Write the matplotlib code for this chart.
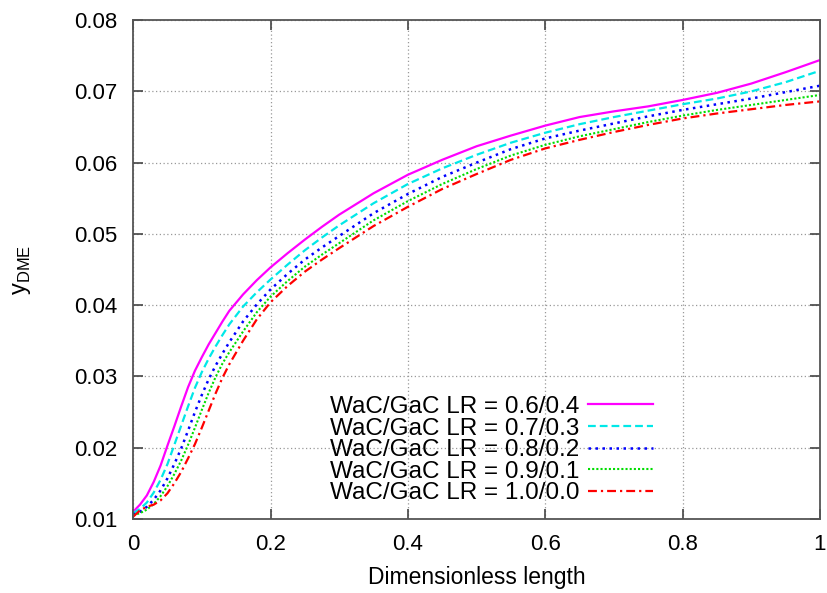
import matplotlib

matplotlib.use("Agg")
import matplotlib.pyplot as plt

plt.rcParams["font.family"] = ["Liberation Sans", "DejaVu Sans"]
plt.rcParams["mathtext.fontset"] = "custom"
plt.rcParams["mathtext.rm"] = "Liberation Sans"

# dimensionless length positions and y_DME values
x = [0.0, 0.01, 0.02, 0.03, 0.04, 0.05, 0.06, 0.07, 0.08, 0.09,
     0.10, 0.11, 0.12, 0.13, 0.14, 0.16, 0.18, 0.20, 0.225, 0.25,
     0.275, 0.30, 0.35, 0.40, 0.45, 0.50, 0.55, 0.60, 0.65, 0.70,
     0.75, 0.80, 0.85, 0.90, 0.95, 1.00]

y_06 = [0.0110, 0.0120, 0.0133, 0.0152, 0.0175, 0.0203, 0.0230, 0.0258, 0.0285, 0.0308,
        0.0327, 0.0345, 0.0361, 0.0377, 0.0392, 0.0415, 0.0435, 0.0453, 0.0473, 0.0492,
        0.0510, 0.0527, 0.0557, 0.0583, 0.0604, 0.0623, 0.0638, 0.0652, 0.0664, 0.0672,
        0.0679, 0.0688, 0.0698, 0.0711, 0.0727, 0.0744]
y_07 = [0.0108, 0.0114, 0.0123, 0.0137, 0.0155, 0.0177, 0.0204, 0.0231, 0.0258, 0.0284,
        0.0306, 0.0325, 0.0342, 0.0358, 0.0373, 0.0398, 0.0418, 0.0436, 0.0457, 0.0477,
        0.0495, 0.0512, 0.0543, 0.0570, 0.0592, 0.0611, 0.0628, 0.0642, 0.0654, 0.0664,
        0.0673, 0.0682, 0.0690, 0.0700, 0.0713, 0.0729]
y_08 = [0.0106, 0.0110, 0.0117, 0.0127, 0.0140, 0.0157, 0.0177, 0.0199, 0.0224, 0.0250,
        0.0274, 0.0296, 0.0315, 0.0332, 0.0348, 0.0377, 0.0401, 0.0422, 0.0444, 0.0464,
        0.0481, 0.0497, 0.0529, 0.0556, 0.0580, 0.0600, 0.0619, 0.0634, 0.0645, 0.0655,
        0.0665, 0.0674, 0.0682, 0.0690, 0.0699, 0.0708]
y_09 = [0.0105, 0.0108, 0.0113, 0.0121, 0.0132, 0.0146, 0.0163, 0.0182, 0.0204, 0.0228,
        0.0253, 0.0277, 0.0299, 0.0318, 0.0334, 0.0363, 0.0390, 0.0412, 0.0434, 0.0454,
        0.0471, 0.0487, 0.0519, 0.0546, 0.0570, 0.0591, 0.0610, 0.0625, 0.0637, 0.0647,
        0.0657, 0.0666, 0.0674, 0.0681, 0.0688, 0.0695]
y_10 = [0.0103, 0.0112, 0.0117, 0.0120, 0.0126, 0.0136, 0.0150, 0.0166, 0.0185, 0.0205,
        0.0228, 0.0252, 0.0276, 0.0298, 0.0317, 0.0350, 0.0380, 0.0404, 0.0427, 0.0447,
        0.0464, 0.0480, 0.0511, 0.0538, 0.0563, 0.0584, 0.0604, 0.0620, 0.0632, 0.0643,
        0.0653, 0.0662, 0.0669, 0.0675, 0.0681, 0.0686]

labels = ["WaC/GaC LR = 0.6/0.4", "WaC/GaC LR = 0.7/0.3", "WaC/GaC LR = 0.8/0.2",
          "WaC/GaC LR = 0.9/0.1", "WaC/GaC LR = 1.0/0.0"]

fig = plt.figure(figsize=(8.27, 5.93), dpi=100)
ax = fig.add_axes([0.161, 0.125, 0.8305, 0.841])

ax.plot(x, y_06, color="#ff00ff", lw=1.6, ls="-", label=labels[0])
ax.plot(x, y_07, color="#00e8e8", lw=1.6, ls=(0, (3.5, 1.8)), label=labels[1])
ax.plot(x, y_08, color="#0000ff", lw=1.8, ls=(0, (1, 1.8)), label=labels[2])
ax.plot(x, y_09, color="#00dd00", lw=1.5, ls=(0, (1, 1)), label=labels[3])
ax.plot(x, y_10, color="#ff0000", lw=1.6, ls=(0, (4, 1.8, 1, 1.8)), label=labels[4])

ax.set_xlim(0, 1)
ax.set_ylim(0.01, 0.08)
ax.set_xticks([0, 0.2, 0.4, 0.6, 0.8, 1])
ax.set_xticklabels(["0", "0.2", "0.4", "0.6", "0.8", "1"])
ax.set_yticks([0.01, 0.02, 0.03, 0.04, 0.05, 0.06, 0.07, 0.08])
ax.set_yticklabels(["0.01", "0.02", "0.03", "0.04", "0.05", "0.06", "0.07", "0.08"])
ax.tick_params(direction="in", length=7, width=1.2, top=True, right=True,
               labelsize=16, pad=11, colors="#444444", labelcolor="black")
ax.grid(True, color="#999999", ls=(0, (1, 2)), lw=0.9)
for s in ax.spines.values():
    s.set_color("#555555")
    s.set_linewidth(1.3)

ax.set_xlabel("Dimensionless length", fontsize=16.5, labelpad=8)
ax.set_ylabel(r"y$_{\mathrm{DME}}$", fontsize=17, rotation=90, labelpad=30)

ax.legend(loc="center", bbox_to_anchor=(0.522, 0.138), frameon=False,
          markerfirst=False, fontsize=17.5, handlelength=2.7, handletextpad=0.34,
          labelspacing=-0.02, borderpad=0, borderaxespad=0)

fig.savefig("out.png", dpi=100)
plt.close(fig)
